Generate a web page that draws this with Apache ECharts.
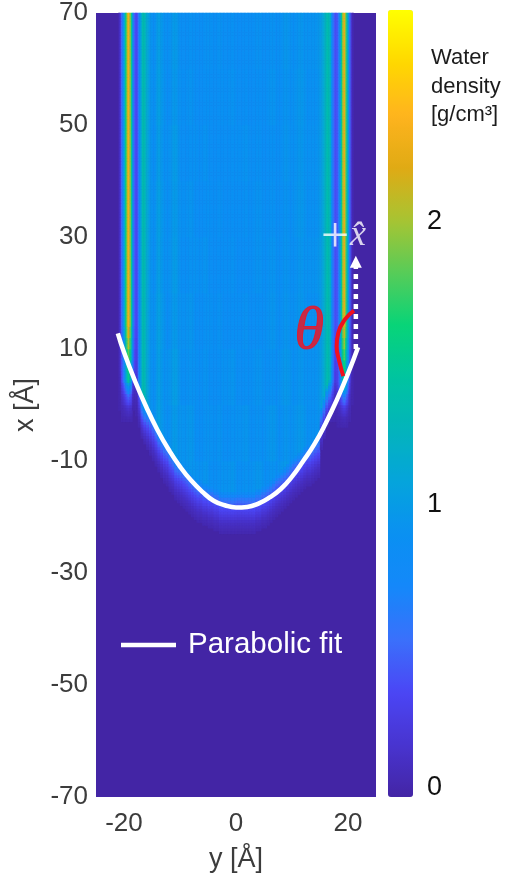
<!DOCTYPE html>
<html><head><meta charset="utf-8">
<style>html,body{margin:0;padding:0;background:#fff}#c{width:505px;height:879px}</style>
<script src="https://cdn.jsdelivr.net/npm/echarts@6/dist/echarts.min.js"></script>
</head><body><div id="c"></div>
<script>
// column centres run -24.875 ... 24.875 in 0.25 A steps; density along y far from the meniscus
const wallProfile = [
 0,0,0,0,0,0,0,0,0,0,0,0,0,0,0,0,
 0.02,0.2,0.5,0.8,1.15,1.6,2.1,2.3,2.0,1.5,0.95,0.45,0.35,0.35,0.6,0.9,1.15,1.35,1.35,1.25,1.15,1.05,0.98,0.92,
 0.88,0.86,0.88,0.95,1.0,1.0,0.97,0.93,0.9,0.88,0.87,0.87,0.88,0.9,0.94,0.97,0.98,0.96,0.93,0.9,
 0.88,0.87,0.86,0.86,0.87,0.88,0.89,0.9,0.9,0.89,
 0.88,0.87,0.86,0.85,0.85,0.86,0.87,0.88,0.89,0.89,
 0.88,0.87,0.86,0.86,0.85,0.85,0.86,0.87,0.88,0.88,
 0.87,0.86,0.85,0.85,0.86,0.87,0.88,0.89,0.88,0.87,
 0.86,0.85,0.85,0.85,0.86,0.87,0.88,0.88,0.87,0.86,
 0.85,0.85,0.86,0.87,0.88,0.89,0.89,0.88,0.87,0.86,
 0.85,0.85,0.86,0.87,0.89,0.9,0.9,0.89,0.87,0.86,
 0.86,0.86,0.87,0.89,0.91,0.92,0.92,0.9,0.89,0.88,
 0.87,0.87,0.88,0.89,0.91,0.92,0.93,0.92,0.9,0.89,
 0.88,0.87,0.87,0.87,0.88,0.88,0.88,
 0.88,0.9,0.93,1.0,1.06,1.12,1.2,1.3,1.36,1.36,1.2,0.9,0.6,0.42,0.38,0.42,0.6,1.0,1.5,2.0,2.25,1.9,1.4,0.95,0.5,0.15,0.02,
 0,0,0,0,0,0,0,0,0,0,0,0,0,0,0,0
];
// x below which each 0.5 A column is empty
const waterEdge = [
 0,0,0,0,0,0,0,0,-1,-3,-3,-3,-3,-1,-2,-4,-6,-7,-8,-9,
 -10,-11,-12,-13,-14,-14.5,-15.5,-16,-17,-17.5,-18,-18.5,-19,-19.5,-20,-20.5,-21,-21,-21.5,-21.5,
 -22,-22,-22.5,-22.5,-23,-23,-23,-23,-23,-23,-23,-23,-23,-23,-23,-23,-23,-22.5,-22.5,-22,
 -22,-21.5,-21,-20.5,-20,-19.5,-19,-18.5,-18,-17.5,-17,-16.5,-16,-15.5,-15,-14.5,-14.5,-14,-13.5,-13,
 -8,-6,-4,-3,-3,-3,-4,-4,-4,-4,-3,0,0,0,0,0,0,0,0,0
];
// density ratio by height above the edge, in 0.5 A rows
const edgeFade = [0.02,0.04,0.07,0.1,0.14,0.19,0.24,0.3,0.36,0.43,0.5,0.58,0.67,0.78,0.9];
// strength of the wall layers near the meniscus
const wallFadeX = [16,14,12,10,8,6,4,2,0,-2,-4];
const wallFade  = [1,0.95,0.88,0.8,0.72,0.68,0.62,0.55,0.42,0.3,0.15];
// faint streaks in the bulk: rows every 10 A from x=70 down, columns every 2.5 A from y=-15
const ripple = [
 [0.02,0.02,0,0.01,0.03,0.01,0,0.02,0.01,0.03,0.02,0.04],
 [0.03,0,0.02,0,0.01,0.03,0.01,0,0.03,0.01,0.04,0.02],
 [0.01,0.03,0,0.03,0,0.01,0.04,0.01,0,0.02,0.03,0.03],
 [0.03,0.02,0.03,0,0.02,0,0.02,0.03,0.01,0,0.04,0.02],
 [0.02,0.03,0.01,0.04,0,0.02,0,0.03,0.03,0.01,0.02,0.04],
 [0.04,0.01,0.04,0.01,0.03,0,0.03,0,0.04,0.02,0.03,0.02],
 [0.02,0.05,0.02,0.03,0.01,0.05,0.01,0.04,0.01,0.05,0.02,0.03],
 [0.03,0.02,0.06,0.02,0.04,0.02,0.06,0.02,0.06,0.02,0.05,0.02],
 [0,0.03,0.04,0.05,0.02,0.06,0.03,0.06,0.02,0.06,0.02,0]
];

const fitY = [-21.1,-20,-18,-16,-14,-12,-10,-8,-6,-4,-2,0,2,4,6,8,10,12,14,16,18,20,21.8];
const fitX = [12.8,9.4,4.2,-0.4,-4.5,-8,-11,-13.5,-15.5,-17.1,-17.9,-18.3,-18.2,-17.6,-16.5,-15,-12.8,-10,-7,-3.3,0.9,5.6,10.3];
const arcY = [21.07,19.46,18.27,17.98,18.45,19.16];
const arcX = [16.87,15.3,12.9,10.5,7.8,5.16];
const arrowY = [21.4,21.4];
const arrowX = [10,25.6];
const xTicks = [-20,0,20];
const yTicks = [-70,-50,-30,-10,10,30,50,70];
const barTicks = [0,1,2];
const barColors = ['#4325a5','#4834d0','#4b46f5','#3a70fb','#1488fa','#0a90f2','#05a4dc','#03b4bc','#00c4a0','#08d478','#58cc58','#a8c432','#e0aa14','#ffb41e','#ffd800','#ffff00'];

const cols = wallProfile.map((_, i) => -24.875 + 0.25 * i);
const rows = Array.from({length:280}, (_, j) => -69.75 + 0.5 * j);
const cells = [];
rows.forEach((x, j) => cols.forEach((y, i) => {
  let v = wallProfile[i];
  if (!v) return;
  const edge = waterEdge[i >> 1];
  const d = Math.floor((x - edge) * 2);
  if (d < 0) return;
  if (Math.abs(y) < 15) {
    const r = Math.min(ripple.length - 1, Math.floor((70 - x) / 10));
    const c = Math.min(11, Math.floor((y + 15) / 2.5));
    v += ripple[r][c];
  }
  if (d < edgeFade.length) v *= edgeFade[d];
  if (Math.abs(y) >= 17.5 && x < 16) {
    let k = 0;
    while (k < wallFadeX.length - 1 && wallFadeX[k + 1] >= x) k++;
    v *= x < -4 ? 0 : wallFade[k];
  }
  cells.push([i, j, +v.toFixed(3)]);
}));
const zip = (a, b) => a.map((v, i) => [v, b[i]]);
const sans = '"Liberation Sans",Helvetica,Arial,sans-serif';
const serif = '"Liberation Serif",serif';
const grey = '#3c3c3c';

const chart = echarts.init(document.getElementById('c'), null, {renderer:'canvas'});
chart.setOption({
  animation:false,
  backgroundColor:'#fff',
  grid:[
    {left:96, top:11, width:280, height:786, show:true, backgroundColor:'#4325a5', borderWidth:0},
    {left:388, top:10, width:25, height:787}
  ],
  xAxis:[
    {type:'category', gridIndex:0, data:cols, show:false},
    {type:'value', gridIndex:0, min:-25, max:25, position:'bottom', name:'y [Å]', nameLocation:'middle', nameGap:49,
     nameTextStyle:{fontFamily:sans, fontSize:27, color:grey},
     axisLine:{show:false}, axisTick:{show:false}, splitLine:{show:false},
     axisLabel:{customValues:xTicks, fontFamily:sans, fontSize:26, color:grey, margin:14, formatter:v=>String(v)}},
    {type:'value', gridIndex:1, show:false, min:0, max:1}
  ],
  yAxis:[
    {type:'category', gridIndex:0, data:rows, show:false},
    {type:'value', gridIndex:0, min:-70, max:70, position:'left', name:'x [Å]', nameLocation:'middle', nameGap:47,
     nameTextStyle:{fontFamily:sans, fontSize:27, color:grey},
     axisLine:{show:false}, axisTick:{show:false}, splitLine:{show:false},
     axisLabel:{customValues:yTicks, fontFamily:sans, fontSize:26, color:grey, margin:8, formatter:v=>String(v)}},
    {type:'value', gridIndex:1, min:-0.035, max:2.75, position:'right',
     axisLine:{show:false}, axisTick:{show:false}, splitLine:{show:false},
     axisLabel:{customValues:barTicks, fontFamily:sans, fontSize:27, color:'#111', margin:14, formatter:v=>String(v)}}
  ],
  visualMap:{type:'continuous', seriesIndex:0, min:-0.035, max:2.75, left:388, top:10, itemWidth:25, itemHeight:787,
    calculable:false, showLabel:false, inRange:{color:barColors}, handleStyle:{opacity:0}, indicatorStyle:{opacity:0}, padding:0, borderWidth:0},
  legend:{data:[{name:'Parabolic fit', icon:'rect'}], left:121, top:630, itemWidth:55, itemHeight:4.5, padding:0,
    itemStyle:{color:'#fff'}, textStyle:{color:'#fff', fontFamily:sans, fontSize:29.5, padding:[0,0,0,7]}},
  graphic:[{type:'text', left:431, top:44, style:{text:'Water\ndensity\n[g/cm³]', fontFamily:sans, fontSize:22, lineHeight:28.5, fill:'#1c1c1c'}}],
  series:[
    {type:'heatmap', xAxisIndex:0, yAxisIndex:0, data:cells, progressive:0, itemStyle:{borderWidth:0}, emphasis:{disabled:true}},
    {type:'line', name:'Parabolic fit', xAxisIndex:1, yAxisIndex:1, data:zip(fitY, fitX), smooth:true, symbol:'none', lineStyle:{color:'#fff', width:4.5}, itemStyle:{color:'#fff'}},
    {type:'line', name:'arc', xAxisIndex:1, yAxisIndex:1, data:zip(arcY, arcX), smooth:true, symbol:'none', lineStyle:{color:'#f0101e', width:4}},
    {type:'line', name:'axis', xAxisIndex:1, yAxisIndex:1, showSymbol:true, showAllSymbol:true,
      data:[{value:[arrowY[0],arrowX[0]], symbol:'none'},{value:[arrowY[1],arrowX[1]], symbol:'triangle', symbolSize:[12,12]}],
      lineStyle:{color:'#fff', width:4.5, type:[5,5]}, itemStyle:{color:'#fff'}},
    {type:'scatter', name:'notes', xAxisIndex:1, yAxisIndex:1, symbolSize:0, silent:true,
      data:[
        {value:[13.1,13], label:{show:true, position:'inside', formatter:'θ', fontFamily:serif, fontStyle:'italic', fontSize:60, color:'#f5101e', textBorderColor:'#f5101e', textBorderWidth:1}},
        {value:[17.7,29.7], label:{show:true, position:'inside', formatter:'+', fontFamily:serif, fontSize:50, color:'#fff'}},
        {value:[21.8,30.2], label:{show:true, position:'inside', formatter:'x̂', fontFamily:serif, fontStyle:'italic', fontSize:36, color:'#fff'}}
      ]}
  ]
});
</script></body></html>
